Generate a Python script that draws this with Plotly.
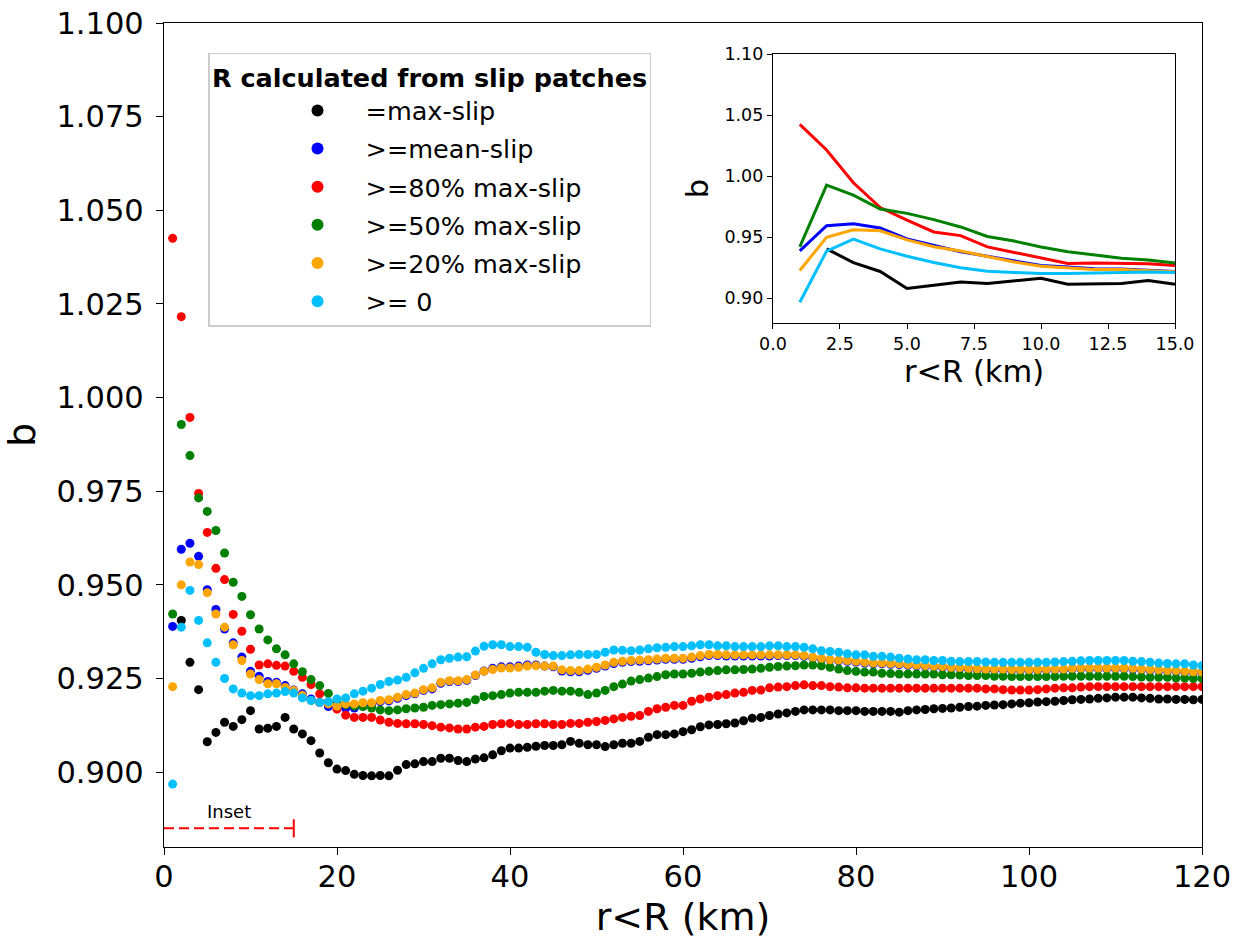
import plotly.graph_objects as go

r_km = list(range(1, 121))

b_max_slip = [None, 0.9405, 0.9293, 0.9220, 0.9081, 0.9106, 0.9133, 0.9122, 0.9140, 0.9164,
              0.9115, 0.9117, 0.9122, 0.9146, 0.9115, 0.9102, 0.9084, 0.9051, 0.9025, 0.9008,
              0.9004, 0.8994, 0.8991, 0.8990, 0.8991, 0.8990, 0.9005, 0.9020, 0.9022, 0.9028,
              0.9028, 0.9037, 0.9037, 0.9031, 0.9028, 0.9035, 0.9038, 0.9046, 0.9057, 0.9064,
              0.9064, 0.9066, 0.9069, 0.9071, 0.9071, 0.9073, 0.9082, 0.9077, 0.9073, 0.9073,
              0.9068, 0.9073, 0.9077, 0.9077, 0.9082, 0.9093, 0.9100, 0.9100, 0.9102, 0.9108,
              0.9113, 0.9121, 0.9126, 0.9127, 0.9129, 0.9131, 0.9137, 0.9144, 0.9146, 0.9151,
              0.9155, 0.9158, 0.9162, 0.9166, 0.9166, 0.9166, 0.9166, 0.9164, 0.9164, 0.9164,
              0.9162, 0.9162, 0.9162, 0.9162, 0.9160, 0.9164, 0.9166, 0.9167, 0.9169, 0.9170,
              0.9171, 0.9173, 0.9175, 0.9176, 0.9178, 0.9179, 0.9180, 0.9182, 0.9184, 0.9185,
              0.9187, 0.9188, 0.9189, 0.9191, 0.9193, 0.9194, 0.9195, 0.9197, 0.9198, 0.9200,
              0.9200, 0.9200, 0.9198, 0.9197, 0.9195, 0.9195, 0.9194, 0.9194, 0.9193, 0.9194]

b_mean_slip = [0.9389, 0.9595, 0.9611, 0.9576, 0.9487, 0.9434, 0.9382, 0.9345, 0.9307, 0.9269,
               0.9256, 0.9242, 0.9240, 0.9231, 0.9219, 0.9209, 0.9195, 0.9186, 0.9175, 0.9172,
               0.9170, 0.9171, 0.9176, 0.9180, 0.9188, 0.9190, 0.9197, 0.9204, 0.9209, 0.9218,
               0.9222, 0.9237, 0.9242, 0.9242, 0.9245, 0.9258, 0.9270, 0.9277, 0.9281, 0.9281,
               0.9283, 0.9286, 0.9286, 0.9283, 0.9281, 0.9270, 0.9268, 0.9268, 0.9272, 0.9277,
               0.9283, 0.9290, 0.9293, 0.9295, 0.9296, 0.9297, 0.9299, 0.9301, 0.9301, 0.9301,
               0.9304, 0.9308, 0.9311, 0.9311, 0.9310, 0.9310, 0.9310, 0.9310, 0.9310, 0.9310,
               0.9311, 0.9311, 0.9311, 0.9309, 0.9305, 0.9302, 0.9299, 0.9297, 0.9296, 0.9294,
               0.9291, 0.9289, 0.9289, 0.9288, 0.9287, 0.9285, 0.9284, 0.9282, 0.9281, 0.9280,
               0.9278, 0.9277, 0.9275, 0.9274, 0.9273, 0.9273, 0.9273, 0.9272, 0.9272, 0.9272,
               0.9272, 0.9273, 0.9273, 0.9273, 0.9275, 0.9276, 0.9276, 0.9276, 0.9276, 0.9276,
               0.9276, 0.9275, 0.9273, 0.9272, 0.9271, 0.9269, 0.9269, 0.9267, 0.9266, 0.9265]

b_80_max = [1.0425, 1.0216, 0.9947, 0.9744, 0.9640, 0.9544, 0.9514, 0.9421, 0.9376, 0.9328,
            0.9286, 0.9289, 0.9285, 0.9283, 0.9269, 0.9253, 0.9234, 0.9209, 0.9187, 0.9168,
            0.9152, 0.9146, 0.9146, 0.9146, 0.9139, 0.9133, 0.9130, 0.9129, 0.9129, 0.9127,
            0.9124, 0.9120, 0.9118, 0.9115, 0.9115, 0.9120, 0.9122, 0.9127, 0.9129, 0.9130,
            0.9127, 0.9127, 0.9129, 0.9129, 0.9127, 0.9127, 0.9130, 0.9130, 0.9133, 0.9135,
            0.9138, 0.9142, 0.9146, 0.9149, 0.9151, 0.9162, 0.9169, 0.9173, 0.9178, 0.9178,
            0.9189, 0.9195, 0.9200, 0.9204, 0.9207, 0.9211, 0.9213, 0.9218, 0.9219, 0.9225,
            0.9227, 0.9228, 0.9231, 0.9233, 0.9231, 0.9231, 0.9228, 0.9227, 0.9225, 0.9225,
            0.9224, 0.9224, 0.9224, 0.9224, 0.9224, 0.9224, 0.9224, 0.9224, 0.9224, 0.9224,
            0.9224, 0.9224, 0.9224, 0.9224, 0.9222, 0.9222, 0.9220, 0.9219, 0.9219, 0.9219,
            0.9220, 0.9222, 0.9224, 0.9225, 0.9225, 0.9227, 0.9228, 0.9228, 0.9228, 0.9228,
            0.9228, 0.9228, 0.9228, 0.9228, 0.9228, 0.9228, 0.9228, 0.9228, 0.9228, 0.9228]

b_50_max = [0.9422, 0.9928, 0.9845, 0.9732, 0.9696, 0.9645, 0.9585, 0.9507, 0.9469, 0.9420,
            0.9382, 0.9353, 0.9329, 0.9313, 0.9289, 0.9268, 0.9247, 0.9231, 0.9210, 0.9190,
            0.9180, 0.9176, 0.9175, 0.9171, 0.9166, 0.9164, 0.9166, 0.9169, 0.9171, 0.9173,
            0.9178, 0.9180, 0.9182, 0.9184, 0.9186, 0.9193, 0.9202, 0.9204, 0.9207, 0.9211,
            0.9213, 0.9213, 0.9213, 0.9216, 0.9218, 0.9216, 0.9216, 0.9213, 0.9207, 0.9211,
            0.9218, 0.9228, 0.9235, 0.9243, 0.9247, 0.9251, 0.9255, 0.9260, 0.9262, 0.9262,
            0.9264, 0.9267, 0.9269, 0.9271, 0.9273, 0.9273, 0.9274, 0.9275, 0.9277, 0.9280,
            0.9282, 0.9283, 0.9284, 0.9286, 0.9286, 0.9284, 0.9280, 0.9275, 0.9271, 0.9269,
            0.9267, 0.9267, 0.9264, 0.9263, 0.9262, 0.9262, 0.9262, 0.9262, 0.9262, 0.9260,
            0.9260, 0.9259, 0.9258, 0.9258, 0.9258, 0.9256, 0.9256, 0.9255, 0.9255, 0.9255,
            0.9255, 0.9255, 0.9255, 0.9256, 0.9256, 0.9256, 0.9256, 0.9256, 0.9256, 0.9256,
            0.9256, 0.9255, 0.9254, 0.9253, 0.9253, 0.9253, 0.9251, 0.9251, 0.9250, 0.9250]

b_20_max = [0.9228, 0.9500, 0.9561, 0.9554, 0.9479, 0.9422, 0.9387, 0.9340, 0.9298, 0.9262,
            0.9247, 0.9236, 0.9236, 0.9226, 0.9218, 0.9205, 0.9191, 0.9186, 0.9182, 0.9176,
            0.9182, 0.9182, 0.9185, 0.9185, 0.9191, 0.9193, 0.9200, 0.9207, 0.9211, 0.9220,
            0.9225, 0.9240, 0.9244, 0.9244, 0.9247, 0.9259, 0.9269, 0.9274, 0.9278, 0.9278,
            0.9280, 0.9283, 0.9284, 0.9283, 0.9283, 0.9273, 0.9271, 0.9271, 0.9275, 0.9280,
            0.9286, 0.9293, 0.9296, 0.9298, 0.9299, 0.9300, 0.9302, 0.9304, 0.9304, 0.9304,
            0.9307, 0.9311, 0.9314, 0.9314, 0.9313, 0.9313, 0.9313, 0.9313, 0.9313, 0.9313,
            0.9313, 0.9313, 0.9313, 0.9311, 0.9307, 0.9304, 0.9300, 0.9299, 0.9298, 0.9296,
            0.9293, 0.9291, 0.9291, 0.9290, 0.9289, 0.9287, 0.9286, 0.9284, 0.9283, 0.9282,
            0.9280, 0.9279, 0.9277, 0.9276, 0.9275, 0.9275, 0.9275, 0.9274, 0.9274, 0.9274,
            0.9274, 0.9275, 0.9275, 0.9275, 0.9277, 0.9278, 0.9278, 0.9278, 0.9278, 0.9278,
            0.9278, 0.9277, 0.9275, 0.9274, 0.9273, 0.9271, 0.9271, 0.9269, 0.9268, 0.9267]

b_ge_0 = [0.8968, 0.9387, 0.9485, 0.9405, 0.9345, 0.9293, 0.9250, 0.9222, 0.9211, 0.9204,
          0.9204, 0.9209, 0.9211, 0.9215, 0.9211, 0.9198, 0.9191, 0.9186, 0.9188, 0.9195,
          0.9198, 0.9209, 0.9216, 0.9224, 0.9234, 0.9242, 0.9246, 0.9253, 0.9265, 0.9277,
          0.9289, 0.9300, 0.9304, 0.9307, 0.9308, 0.9323, 0.9336, 0.9340, 0.9340, 0.9335,
          0.9335, 0.9333, 0.9320, 0.9314, 0.9311, 0.9311, 0.9313, 0.9314, 0.9314, 0.9314,
          0.9320, 0.9326, 0.9325, 0.9324, 0.9326, 0.9329, 0.9332, 0.9333, 0.9335, 0.9335,
          0.9337, 0.9340, 0.9340, 0.9337, 0.9337, 0.9335, 0.9335, 0.9335, 0.9335, 0.9337,
          0.9337, 0.9335, 0.9335, 0.9333, 0.9329, 0.9324, 0.9322, 0.9320, 0.9316, 0.9313,
          0.9313, 0.9309, 0.9309, 0.9307, 0.9304, 0.9302, 0.9300, 0.9300, 0.9298, 0.9298,
          0.9296, 0.9295, 0.9295, 0.9295, 0.9294, 0.9293, 0.9293, 0.9293, 0.9293, 0.9293,
          0.9293, 0.9293, 0.9294, 0.9295, 0.9296, 0.9297, 0.9298, 0.9298, 0.9298, 0.9298,
          0.9298, 0.9296, 0.9295, 0.9293, 0.9291, 0.9290, 0.9289, 0.9289, 0.9286, 0.9284]

series_names = ["=max-slip", ">=mean-slip", ">=80% max-slip", ">=50% max-slip",
                ">=20% max-slip", ">= 0"]
series_values = [b_max_slip, b_mean_slip, b_80_max, b_50_max, b_20_max, b_ge_0]
series_colors = ["#000000", "#0000ff", "#ff0000", "#008000", "#ffa500", "#00bfff"]

main_yticks = [0.900, 0.925, 0.950, 0.975, 1.000, 1.025, 1.050, 1.075, 1.100]
inset_xticks = [0.0, 2.5, 5.0, 7.5, 10.0, 12.5, 15.0]
inset_yticks = [0.90, 0.95, 1.00, 1.05, 1.10]
inset_n = 15

FONT = "DejaVu Sans"
fig = go.Figure()

for i, (name, vals, col) in enumerate(zip(series_names, series_values, series_colors)):
    fig.add_trace(go.Scatter(
        x=r_km, y=vals, mode="markers", name=name, legendgroup="g%d" % i,
        marker=dict(color=col, size=9, line=dict(width=0)),
        xaxis="x", yaxis="y"))

for name, vals, col in zip(series_names, series_values, series_colors):
    fig.add_trace(go.Scatter(
        x=r_km[:inset_n], y=vals[:inset_n], mode="lines", name=name, showlegend=False,
        line=dict(color=col, width=3), connectgaps=False,
        xaxis="x2", yaxis="y2"))

axis_common = dict(showline=True, mirror=True, linecolor="black", showgrid=False,
                   zeroline=False, ticks="outside", tickcolor="black", automargin=False)

fig.update_layout(
    width=1245, height=939, autosize=False,
    margin=dict(l=164, r=43, t=23, b=92),
    paper_bgcolor="white", plot_bgcolor="white",
    font=dict(family=FONT, color="black"),
    xaxis=dict(domain=[0, 1], range=[0, 120], tickvals=[0, 20, 40, 60, 80, 100, 120],
               tickfont=dict(size=30.5), ticklen=7, tickwidth=1.3, linewidth=1.3,
               ticklabelstandoff=-5,
               title=dict(text="r<R (km)", font=dict(size=38), standoff=12), **axis_common),
    yaxis=dict(domain=[0, 1], range=[0.88, 1.10], tickvals=main_yticks, tickformat=".3f",
               tickfont=dict(size=30.5), ticklen=7, tickwidth=1.3, linewidth=1.3,
               ticklabelstandoff=6,
               title=dict(text="b", font=dict(size=38), standoff=14), **axis_common),
    xaxis2=dict(domain=[0.5867, 0.9740], range=[0, 15], tickvals=inset_xticks, tickformat=".1f",
                anchor="y2", tickfont=dict(size=17.5), ticklen=5, tickwidth=1, linewidth=1.2,
                title=dict(text="r<R (km)", font=dict(size=30.5), standoff=2), **axis_common),
    yaxis2=dict(domain=[0.6363, 0.9620], range=[0.88, 1.10], tickvals=inset_yticks, tickformat=".2f",
                anchor="x2", tickfont=dict(size=17.5), ticklen=5, tickwidth=1, linewidth=1.2,
                title=dict(text="b", font=dict(size=30.5), standoff=6), **axis_common),
    legend=dict(x=0.0424, y=0.964, xanchor="left", yanchor="top",
                bgcolor="rgba(255,255,255,0.8)", bordercolor="#cccccc", borderwidth=1.5,
                font=dict(size=25.5, family=FONT), itemsizing="constant",
                itemwidth=86, indentation=60, tracegroupgap=2,
                title=dict(text="<b>R calculated from slip patches</b>", side="top center",
                           font=dict(size=25.5, family=FONT))),
    showlegend=True,
)

# "Inset" range marker on the main axes
fig.add_shape(type="line", xref="x", yref="y", x0=0, x1=15, y0=0.885, y1=0.885,
              line=dict(color="red", width=2, dash="10px,5px"))
fig.add_shape(type="line", xref="x", yref="y", x0=15, x1=15, y0=0.8826, y1=0.8874,
              line=dict(color="red", width=2))
fig.add_annotation(x=7.5, y=0.8894, xref="x", yref="y", text="Inset", showarrow=False,
                   font=dict(size=18, family=FONT, color="black"))

fig.write_html("out.html")
